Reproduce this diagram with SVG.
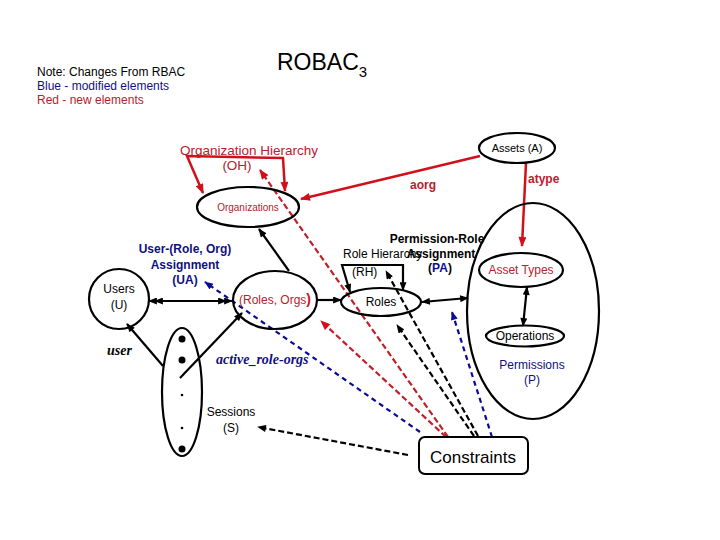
<svg xmlns="http://www.w3.org/2000/svg" width="720" height="540" viewBox="0 0 720 540">
<style>
text{font-family:"Liberation Sans",Arial,sans-serif;}
.node{fill:none;stroke:#000;stroke-width:2.2;}
.blk{stroke:#000;stroke-width:2.2;fill:none;}
.red{stroke:#d0101a;stroke-width:2.5;fill:none;}
.rdash{stroke:#c0202a;stroke-width:2.2;fill:none;stroke-dasharray:6,3;}
.bdash{stroke:#0a0a9a;stroke-width:2.2;fill:none;stroke-dasharray:5,4;}
.kdash{stroke:#000;stroke-width:2.2;fill:none;stroke-dasharray:6,3;}
.t11{font-size:11px;}
.t12{font-size:12px;}
.rt{fill:#b8202c;}
.nv{fill:#101080;}
.bn{font-weight:bold;}
.ser{font-family:"Liberation Serif","Times New Roman",serif;font-style:italic;font-weight:bold;font-size:14px;}
</style>
<defs>
<marker id="ak" viewBox="0 0 10 8" refX="9" refY="4" markerWidth="10" markerHeight="7" markerUnits="userSpaceOnUse" orient="auto-start-reverse"><path d="M0,0 L10,4 L0,8 z" fill="#000"/></marker>
<marker id="ar" viewBox="0 0 10 8" refX="9" refY="4" markerWidth="11" markerHeight="8" markerUnits="userSpaceOnUse" orient="auto-start-reverse"><path d="M0,0 L10,4 L0,8 z" fill="#d0101a"/></marker>
<marker id="ab" viewBox="0 0 10 8" refX="9" refY="4" markerWidth="10" markerHeight="7" markerUnits="userSpaceOnUse" orient="auto-start-reverse"><path d="M0,0 L10,4 L0,8 z" fill="#0a0a9a"/></marker>
</defs>
<rect width="720" height="540" fill="#fff"/>

<g id="legend">
<text x="37" y="76" class="t12">Note: Changes From RBAC</text>
<text x="37" y="90" class="t12 nv">Blue - modified elements</text>
<text x="37" y="104" class="t12 rt">Red - new elements</text>
</g>
<g id="title">
<text x="277" y="70" font-size="23">ROBAC<tspan font-size="15" dy="7">3</tspan></text>
</g>

<g id="connectors">
<polyline class="red" points="203,193 187,156 283,158 285,191" marker-start="url(#ar)" marker-end="url(#ar)"/>
<line class="red" x1="480" y1="156" x2="301" y2="199" marker-end="url(#ar)"/>
<line class="red" x1="526" y1="163" x2="522" y2="246" marker-end="url(#ar)"/>
<line class="blk" x1="289" y1="271" x2="259" y2="229" marker-end="url(#ak)"/>
<line class="blk" x1="317" y1="300" x2="341" y2="300" marker-end="url(#ak)"/>
<line class="blk" x1="149" y1="301" x2="232" y2="301" marker-start="url(#ak)" marker-end="url(#ak)"/>
<line class="blk" x1="155" y1="301" x2="226" y2="301" marker-start="url(#ak)" marker-end="url(#ak)"/>
<line class="blk" x1="163" y1="366" x2="127" y2="324" marker-end="url(#ak)"/>
<line class="blk" x1="180" y1="378" x2="242" y2="313" marker-end="url(#ak)"/>
<polyline class="blk" points="350,292 342,265 403,265 403,290" marker-start="url(#ak)" marker-end="url(#ak)"/>
<line class="blk" x1="422" y1="302" x2="468" y2="298" marker-start="url(#ak)" marker-end="url(#ak)"/>
<line class="blk" x1="527" y1="287" x2="523" y2="326" marker-start="url(#ak)" marker-end="url(#ak)"/>
<line class="rdash" x1="448" y1="437" x2="260" y2="170" marker-end="url(#ar)"/>
<line class="rdash" x1="446" y1="437" x2="321" y2="321" marker-end="url(#ar)"/>
<line class="kdash" x1="478" y1="436" x2="386" y2="271" marker-end="url(#ak)"/>
<line class="kdash" x1="474" y1="436" x2="397" y2="325" marker-end="url(#ak)"/>
<line class="bdash" x1="492" y1="437" x2="452" y2="312" marker-end="url(#ab)"/>
<line class="bdash" x1="420" y1="432" x2="205" y2="282" marker-end="url(#ab)"/>
<line class="kdash" x1="408" y1="455" x2="258" y2="427" marker-end="url(#ak)"/>
</g>

<g id="oh">
<text x="249" y="155" class="rt" font-size="13.5" text-anchor="middle">Organization Hierarchy</text>
<text x="237" y="170" class="rt" font-size="13.5" text-anchor="middle">(OH)</text>
</g>
<g id="organizations">
<ellipse class="node" cx="248" cy="207" rx="51" ry="20"/>
<text x="248" y="211" class="rt" font-size="10" text-anchor="middle">Organizations</text>
</g>
<g id="aorg"><text x="410" y="189" class="t12 rt bn">aorg</text></g>
<g id="assets">
<ellipse class="node" cx="517" cy="148" rx="38" ry="15"/>
<text x="517" y="152" class="t11" text-anchor="middle">Assets (A)</text>
</g>
<g id="atype"><text x="528" y="183" class="t12 rt bn">atype</text></g>
<g id="permissions">
<ellipse class="node" cx="533" cy="311" rx="66" ry="108"/>
<text x="532" y="369" class="t12 nv" text-anchor="middle">Permissions</text>
<text x="532" y="384" class="t12 nv" text-anchor="middle">(P)</text>
</g>
<g id="assettypes">
<ellipse class="node" cx="521" cy="270" rx="42" ry="17"/>
<text x="521" y="274" class="t12 rt" text-anchor="middle">Asset Types</text>
</g>
<g id="operations">
<ellipse class="node" cx="525" cy="336" rx="39" ry="10.5"/>
<text x="525" y="340" class="t12" text-anchor="middle">Operations</text>
</g>
<g id="roles">
<ellipse class="node" cx="381" cy="302" rx="40" ry="14"/>
<text x="381" y="306" class="t12" text-anchor="middle">Roles</text>
</g>
<g id="rh">
<text x="343" y="258" class="t12">Role Hierarchy</text>
<text x="352" y="276" class="t12">(RH)</text>
</g>
<g id="pa">
<text x="437" y="243" class="t12 bn" text-anchor="middle">Permission-Role</text>
<text x="441" y="258" class="t12 bn" text-anchor="middle">Assignment</text>
<text x="440" y="272" class="t12 bn" text-anchor="middle">(<tspan class="nv">PA</tspan>)</text>
</g>
<g id="rolesorgs">
<ellipse class="node" cx="275" cy="300" rx="42" ry="29"/>
<text x="275" y="304" class="t12 rt" text-anchor="middle">(Roles, Orgs<tspan font-weight="bold" font-size="14" fill="#d0101a">)</tspan></text>
</g>
<g id="users">
<ellipse class="node" cx="119" cy="299" rx="30" ry="30"/>
<text x="119" y="293" class="t12" text-anchor="middle">Users</text>
<text x="119" y="309" class="t12" text-anchor="middle">(U)</text>
</g>
<g id="ua">
<text x="185" y="253" class="t12 nv bn" text-anchor="middle">User-(Role, Org)</text>
<text x="185" y="269" class="t12 nv bn" text-anchor="middle">Assignment</text>
<text x="185" y="284" class="t12 nv bn" text-anchor="middle">(UA)</text>
</g>
<g id="sessions">
<ellipse class="node" cx="182" cy="392" rx="20" ry="64"/>
<circle cx="182" cy="339" r="3.5"/>
<circle cx="182" cy="360" r="3.5"/>
<circle cx="182" cy="395" r="1.3"/>
<circle cx="182" cy="428" r="1.3"/>
<circle cx="182" cy="449" r="3.5"/>
<text x="231" y="416" class="t12" text-anchor="middle">Sessions</text>
<text x="231" y="432" class="t12" text-anchor="middle">(S)</text>
</g>
<g id="userlabel"><text x="107" y="355" class="ser">user</text></g>
<g id="arolabel"><text x="216" y="364" class="ser" fill="#101080">active_role-orgs</text></g>
<g id="constraints">
<rect x="419" y="437" width="109" height="37" rx="6" fill="#fff" stroke="#000" stroke-width="2"/>
<text x="473" y="463" font-size="17" text-anchor="middle">Constraints</text>
</g>
</svg>
